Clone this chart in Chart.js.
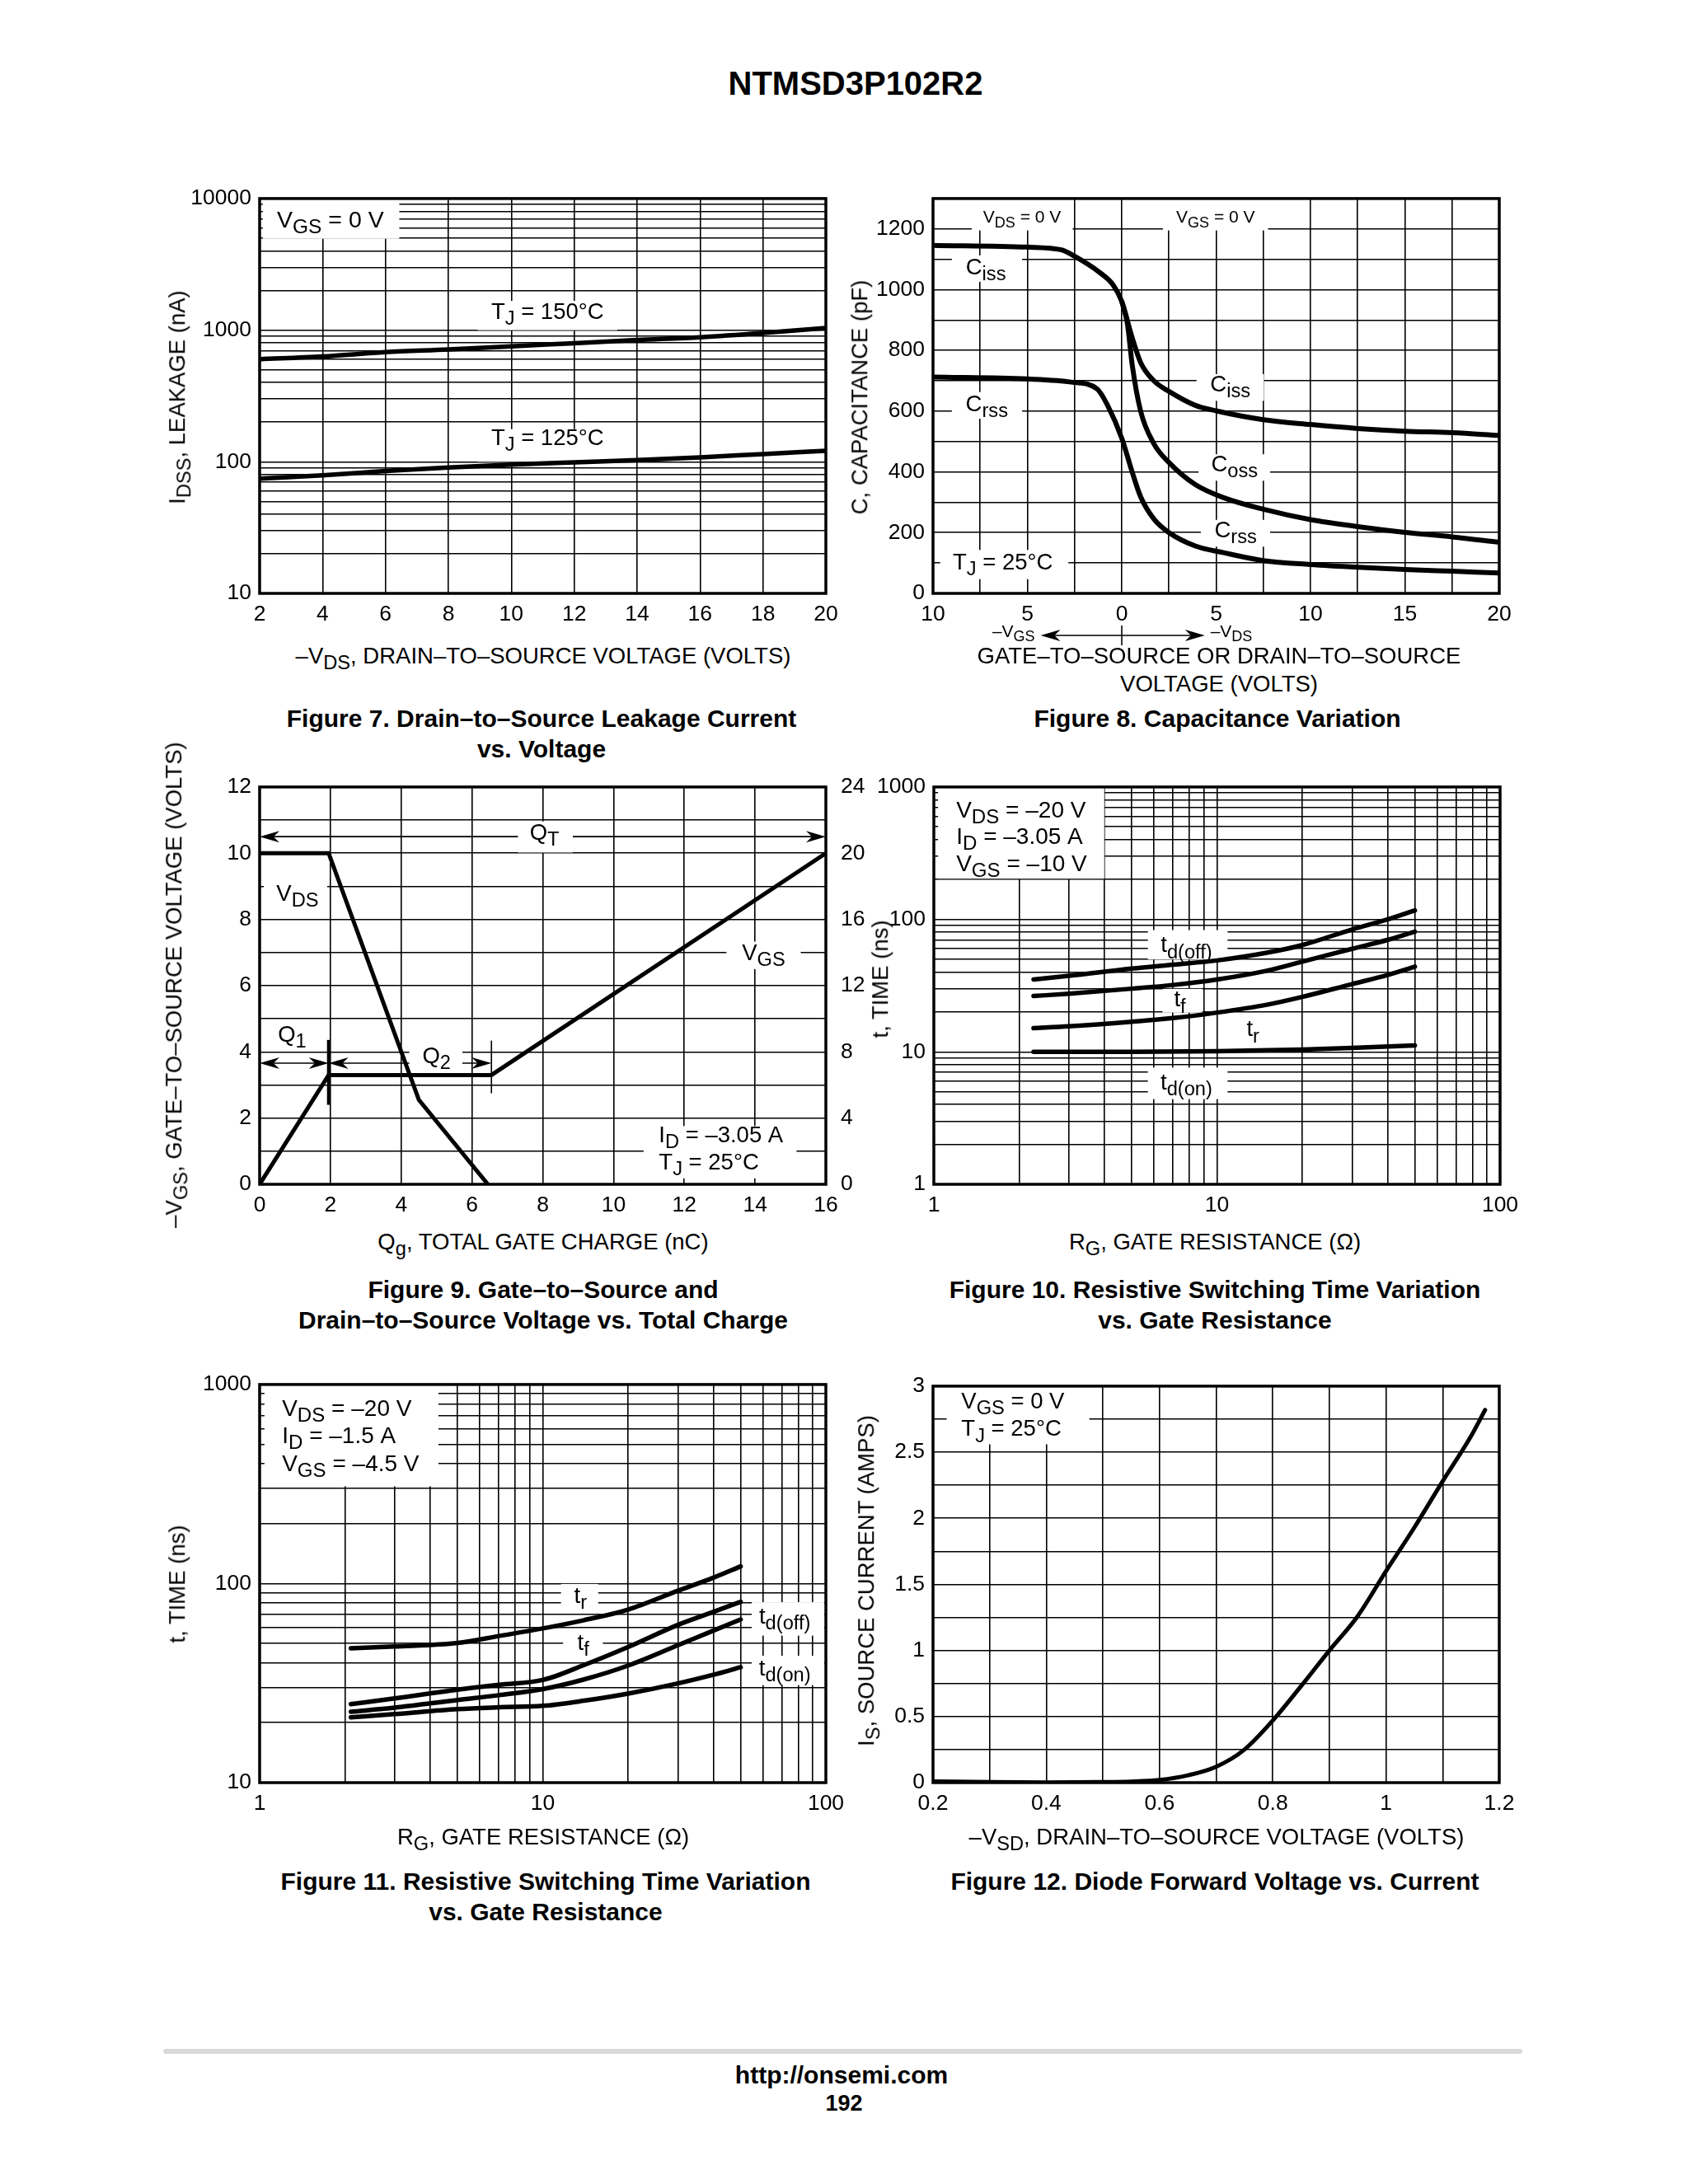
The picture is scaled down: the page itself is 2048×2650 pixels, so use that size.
<!DOCTYPE html>
<html>
<head>
<meta charset="utf-8">
<title>NTMSD3P102R2</title>
<script src="https://cdn.jsdelivr.net/npm/chart.js@4.4.1/dist/chart.umd.min.js"></script>
<style>
  html, body { margin: 0; padding: 0; background: #fff; }
  #page { position: relative; width: 2048px; height: 2650px; overflow: hidden;
          font-family: "Liberation Sans", Arial, sans-serif; color: #000; }
  canvas { position: absolute; }
  .c { position: absolute; transform: translate(-50%, -50%); white-space: nowrap; line-height: 1; }
  .r { transform: translate(-50%, -50%) rotate(-90deg); }
  .ax { font-size: 27.5px; }
  .cap { font-size: 30px; font-weight: bold; }
  sub { font-size: 0.86em; vertical-align: -0.3em; line-height: 0; }
  #rule { position: absolute; left: 198px; top: 2486px; width: 1649px; height: 6px;
          background: #d9d9d9; border-radius: 3px; }
</style>
</head>
<body>
<div id="page">
  <div class="c" style="left:1038px;top:101px;font-size:40px;font-weight:bold">NTMSD3P102R2</div>

  <!-- figure 7 -->
  <canvas id="fig7"></canvas>
  <div class="c ax" style="left:659px;top:796px">–V<sub>DS</sub>, DRAIN–TO–SOURCE VOLTAGE (VOLTS)</div>
  <div class="c ax r" style="left:215px;top:482px">I<sub>DSS</sub>, LEAKAGE (nA)</div>
  <div class="c cap" style="left:657px;top:872px">Figure 7. Drain–to–Source Leakage Current</div>
  <div class="c cap" style="left:657px;top:909px">vs. Voltage</div>

  <!-- figure 8 -->
  <canvas id="fig8"></canvas>
  <div class="c ax r" style="left:1043px;top:482px">C, CAPACITANCE (pF)</div>
  <div class="c ax" style="left:1479px;top:796px">GATE–TO–SOURCE OR DRAIN–TO–SOURCE</div>
  <div class="c ax" style="left:1479px;top:830px">VOLTAGE (VOLTS)</div>
  <div class="c cap" style="left:1477px;top:872px">Figure 8. Capacitance Variation</div>

  <!-- figure 9 -->
  <canvas id="fig9"></canvas>
  <div class="c ax r" style="left:211px;top:1195px">–V<sub>GS</sub>, GATE–TO–SOURCE VOLTAGE (VOLTS)</div>
  <div class="c ax" style="left:659px;top:1507px">Q<sub>g</sub>, TOTAL GATE CHARGE (nC)</div>
  <div class="c cap" style="left:659px;top:1565px">Figure 9. Gate–to–Source and</div>
  <div class="c cap" style="left:659px;top:1602px">Drain–to–Source Voltage vs. Total Charge</div>

  <!-- figure 10 -->
  <canvas id="fig10"></canvas>
  <div class="c ax r" style="left:1068px;top:1188px">t, TIME (ns)</div>
  <div class="c ax" style="left:1474px;top:1507px">R<sub>G</sub>, GATE RESISTANCE (Ω)</div>
  <div class="c cap" style="left:1474px;top:1565px">Figure 10. Resistive Switching Time Variation</div>
  <div class="c cap" style="left:1474px;top:1602px">vs. Gate Resistance</div>

  <!-- figure 11 -->
  <canvas id="fig11"></canvas>
  <div class="c ax r" style="left:215px;top:1922px">t, TIME (ns)</div>
  <div class="c ax" style="left:659px;top:2229px">R<sub>G</sub>, GATE RESISTANCE (Ω)</div>
  <div class="c cap" style="left:662px;top:2283px">Figure 11. Resistive Switching Time Variation</div>
  <div class="c cap" style="left:662px;top:2320px">vs. Gate Resistance</div>

  <!-- figure 12 -->
  <canvas id="fig12"></canvas>
  <div class="c ax r" style="left:1051px;top:1918px">I<sub>S</sub>, SOURCE CURRENT (AMPS)</div>
  <div class="c ax" style="left:1476px;top:2229px">–V<sub>SD</sub>, DRAIN–TO–SOURCE VOLTAGE (VOLTS)</div>
  <div class="c cap" style="left:1474px;top:2283px">Figure 12. Diode Forward Voltage vs. Current</div>

  <div id="rule"></div>
  <div class="c" style="left:1021px;top:2518px;font-size:30px;font-weight:bold">http://onsemi.com</div>
  <div class="c" style="left:1024px;top:2552px;font-size:27px;font-weight:bold">192</div>
</div>

<script>
// Figure 7: leakage vs VDS
const fig7Vds = [2, 4, 6, 8, 10, 12, 14, 16, 18, 20];
const fig7Idss150 = [601, 631, 680, 713, 754, 796, 841, 884, 952, 1040];
const fig7Idss125 = [74.5, 79, 85, 90.6, 95, 99, 103, 108, 114.5, 121];
const fig7XTicks = [2, 4, 6, 8, 10, 12, 14, 16, 18, 20];
const fig7YTicks = [10, 100, 1000, 10000];

// Figure 8: capacitance (x < 0 is the -VGS side, x > 0 the -VDS side)
const fig8CissV = [-10, -5, -3.2, -2.5, -1.2, -0.45, 0, 0.55, 1.0, 1.7, 2.5, 3.9, 5, 7.5, 10, 12.5, 15, 17.5, 20];
const fig8Ciss = [1146, 1140, 1131, 1110, 1058, 1015, 961, 842, 760, 700, 665, 619, 601, 572, 556, 543, 534, 529, 520];
const fig8CossV = [0, 0.3, 0.55, 1.0, 1.7, 2.5, 3.9, 5.4, 7.5, 10, 12.5, 15, 17.5, 20];
const fig8Coss = [961, 888, 754, 600, 493, 431, 358, 315, 277, 243, 220, 201, 186, 168];
const fig8CrssV = [-10, -5, -2.6, -1.3, -0.75, 0, 0.55, 1.0, 1.7, 2.5, 3.9, 5.4, 7.5, 10, 12.5, 15, 17.5, 20];
const fig8Crss = [712, 706, 695, 673, 619, 511, 400, 318, 245, 200, 156, 134, 108, 95, 86, 79, 73, 67];
const fig8XTicks = [-10, -5, 0, 5, 10, 15, 20];
const fig8YTicks = [0, 200, 400, 600, 800, 1000, 1200];
const fig8XGrid = [-10, -7.5, -5, -2.5, 0, 2.5, 5, 7.5, 10, 12.5, 15, 17.5, 20];
const fig8YGrid = [0, 100, 200, 300, 400, 500, 600, 700, 800, 900, 1000, 1100, 1200, 1300];

// Figure 9: gate charge
const fig9VgsQ = [0, 1.95, 6.55, 16];
const fig9Vgs = [0, 3.3, 3.3, 10];
const fig9VdsQ = [0, 1.95, 4.5, 6.45];
const fig9Vds = [20, 20, 5.1, 0];
const fig9XTicks = [0, 2, 4, 6, 8, 10, 12, 14, 16];
const fig9YTicks = [0, 2, 4, 6, 8, 10, 12];
const fig9YGrid = [0, 1, 2, 3, 4, 5, 6, 7, 8, 9, 10, 11, 12];
const fig9Y2Ticks = [0, 4, 8, 12, 16, 20, 24];

// Figure 10: switching times, VGS = -10 V
const fig10Rg = [2.25, 3, 5, 7, 10, 15, 20, 30, 40, 50];
const fig10TdOff = [35.2, 37.5, 42.5, 45.5, 49, 56, 64, 84, 100, 117];
const fig10Tf = [26.4, 27.5, 30, 32, 35.2, 41, 48, 60, 70, 81];
const fig10Tr = [15.1, 15.6, 16.9, 18, 19.8, 22.7, 26, 32.5, 38, 44];
const fig10TdOnRg = [2.25, 5, 10, 20, 30, 50];
const fig10TdOn = [10, 10, 10.1, 10.4, 10.7, 11.2];
const fig10XTicks = [1, 10, 100];
const fig10YTicks = [1, 10, 100, 1000];

// Figure 11: switching times, VGS = -4.5 V
const fig11Rg = [2.1, 3, 5, 7, 10, 14, 20, 30, 40, 50];
const fig11Tr = [47.3, 48.3, 50.3, 54.5, 59.5, 65.5, 74, 92, 107, 122];
const fig11TdOff = [24.8, 26.5, 29.3, 31, 32.8, 39, 48, 62, 72, 81];
const fig11Tf = [22.7, 23.8, 26, 27.5, 29.5, 33, 38.7, 49, 58, 66];
const fig11TdOn = [21.3, 22.1, 23.4, 23.9, 24.3, 25.8, 28, 31.5, 34.8, 38];
const fig11XTicks = [1, 10, 100];
const fig11YTicks = [10, 100, 1000];

// Figure 12: diode forward voltage
const fig12Vsd = [0.2, 0.3, 0.4, 0.5, 0.55, 0.6, 0.65, 0.7, 0.75, 0.8, 0.85, 0.9, 0.95, 1.0, 1.05, 1.1, 1.15, 1.175];
const fig12Is = [0.01, 0.004, 0.002, 0.004, 0.008, 0.02, 0.055, 0.12, 0.25, 0.47, 0.73, 1.0, 1.26, 1.6, 1.93, 2.28, 2.62, 2.82];
const fig12XTicks = [0.2, 0.4, 0.6, 0.8, 1, 1.2];
const fig12YTicks = [0, 0.5, 1, 1.5, 2, 2.5, 3];
const fig12XGrid = [0.2, 0.3, 0.4, 0.5, 0.6, 0.7, 0.8, 0.9, 1.0, 1.1, 1.2];
const fig12YGrid = [0, 0.25, 0.5, 0.75, 1, 1.25, 1.5, 1.75, 2, 2.25, 2.5, 2.75, 3];

// ---- drawing ----
const FONT = '"Liberation Sans", Arial, sans-serif';
const Y_W = 110, X_H = 52, TOP = 24, RIGHT = 36;
const LABEL = 27.5;
const SUB = 0.86;

function logGrid(min, max) {
  const out = [];
  for (let d = min; d < max; d *= 10) {
    for (let m = 1; m < 10; m++) out.push(d * m);
  }
  out.push(max);
  return out;
}

function axis(type, min, max, grid, labels, extra, fmt) {
  fmt = fmt || (v => String(v));
  return Object.assign({
    type, min, max,
    grid: { color: '#000', lineWidth: 1.6, drawTicks: false },
    border: { display: false },
    ticks: {
      color: '#000', font: { family: FONT, size: 26.5 }, padding: 10,
      autoSkip: false, maxRotation: 0,
      callback: v => {
        const hit = labels.find(l => Math.abs(l - v) < 1e-9 * Math.max(1, Math.abs(l)));
        return hit === undefined ? '' : fmt(hit);
      }
    },
    afterBuildTicks: s => { s.ticks = grid.map(v => ({ value: v })); }
  }, extra);
}
const xPos = { position: 'bottom', afterFit: s => { s.height = X_H; } };
const yPos = { position: 'left', afterFit: s => { s.width = Y_W; } };

function line(xs, ys, extra) {
  return Object.assign({
    data: xs.map((x, i) => ({ x, y: ys[i] })),
    borderColor: '#000', borderWidth: 5.5, pointRadius: 0, fill: false,
    cubicInterpolationMode: 'monotone', borderCapStyle: 'round', borderJoinStyle: 'round'
  }, extra);
}

// text with _{subscript} parts
function rich(ctx, s, x, y, size, align) {
  const parts = s.split(/(_\{[^}]*\})/).filter(Boolean).map(p =>
    p.startsWith('_{') ? { t: p.slice(2, -1), sub: true } : { t: p, sub: false });
  let w = 0;
  parts.forEach(p => {
    ctx.font = (p.sub ? size * SUB : size) + 'px ' + FONT;
    p.w = ctx.measureText(p.t).width;
    w += p.w;
  });
  let cx = align === 'left' ? x : align === 'right' ? x - w : x - w / 2;
  ctx.fillStyle = '#000';
  ctx.textAlign = 'left';
  ctx.textBaseline = 'middle';
  parts.forEach(p => {
    ctx.font = (p.sub ? size * SUB : size) + 'px ' + FONT;
    ctx.fillText(p.t, cx, p.sub ? y + size * 0.3 : y);
    cx += p.w;
  });
}

function head(ctx, x, y, dir) {
  const L = 24, H = 7;
  ctx.beginPath();
  ctx.moveTo(x, y);
  ctx.lineTo(x + dir * L, y - H);
  ctx.lineTo(x + dir * L * 0.7, y);
  ctx.lineTo(x + dir * L, y + H);
  ctx.closePath();
  ctx.fill();
}

function arrow(ctx, x1, x2, y) {
  ctx.lineWidth = 1.6;
  ctx.beginPath();
  ctx.moveTo(x1 + 10, y);
  ctx.lineTo(x2 - 10, y);
  ctx.stroke();
  head(ctx, x1, y, 1);
  head(ctx, x2, y, -1);
}

// labels with white backgrounds, arrows and the heavy frame
function sheet(n) {
  return {
    id: 'sheet',
    beforeDatasetsDraw(chart) {
      const ctx = chart.ctx, xs = chart.scales.x, ys = chart.scales.y;
      const px = v => xs.getPixelForValue(v), py = v => ys.getPixelForValue(v);
      ctx.save();
      ctx.strokeStyle = '#000';
      ctx.fillStyle = '#000';
      (n.arrows || []).forEach(a => arrow(ctx, px(a.x1), px(a.x2), py(a.y)));
      (n.marks || []).forEach(k => {
        ctx.lineWidth = k.lw;
        ctx.beginPath();
        ctx.moveTo(px(k.x), py(k.y1));
        ctx.lineTo(px(k.x), py(k.y2));
        ctx.stroke();
      });
      ctx.fillStyle = '#fff';
      (n.boxes || []).forEach(b => {
        const x1 = px(b[0]), x2 = px(b[1]), y1 = py(b[2]), y2 = py(b[3]);
        ctx.fillRect(Math.min(x1, x2), Math.min(y1, y2), Math.abs(x2 - x1), Math.abs(y2 - y1));
      });
      (n.texts || []).forEach(t => rich(ctx, t.s, px(t.x), py(t.y), t.size || LABEL, t.align || 'center'));
      ctx.restore();
    },
    afterDatasetsDraw(chart) {
      const a = chart.chartArea, ctx = chart.ctx;
      ctx.save();
      ctx.strokeStyle = '#000';
      ctx.lineWidth = 3.5;
      ctx.strokeRect(a.left, a.top, a.right - a.left, a.bottom - a.top);
      ctx.restore();
    },
    afterDraw(chart) {
      if (n.below) n.below(chart);
    }
  };
}

function makeChart(id, area, m, datasets, scales, notes) {
  const cv = document.getElementById(id);
  const w = area.r - area.l + m.l + m.r, h = area.b - area.t + m.t + m.b;
  cv.width = w;
  cv.height = h;
  Object.assign(cv.style, {
    left: (area.l - m.l) + 'px', top: (area.t - m.t) + 'px',
    width: w + 'px', height: h + 'px'
  });
  return new Chart(cv, {
    type: 'line',
    data: { datasets },
    options: {
      responsive: false, animation: false, events: [],
      layout: { padding: { top: m.t, right: m.pr, left: 0, bottom: m.pb || 0 } },
      plugins: { legend: { display: false }, tooltip: { enabled: false } },
      scales
    },
    plugins: [sheet(notes)]
  });
}

const M = { l: Y_W, r: RIGHT, t: TOP, b: X_H, pr: RIGHT };

// Figure 7
makeChart('fig7', { l: 315, t: 239, r: 1002, b: 720 }, M,
  [line(fig7Vds, fig7Idss150), line(fig7Vds, fig7Idss125)],
  {
    x: axis('linear', 2, 20, fig7XTicks, fig7XTicks, xPos),
    y: axis('logarithmic', 10, 10000, logGrid(10, 10000), fig7YTicks, yPos)
  },
  {
    boxes: [[2.1, 6.44, 10000, 4950], [8.93, 13.37, 1000, 1667], [8.93, 13.37, 100, 177]],
    texts: [
      { x: 2.55, y: 6760, s: 'V_{GS} = 0 V', align: 'left', size: 28.5 },
      { x: 11.15, y: 1365, s: 'T_{J} = 150°C' },
      { x: 11.15, y: 150, s: 'T_{J} = 125°C' }
    ]
  });

// Figure 8 (extra room below the axis for the -VGS / -VDS arrow)
makeChart('fig8', { l: 1132, t: 239, r: 1819, b: 720 }, { l: Y_W, r: RIGHT, t: TOP, b: X_H + 34, pr: RIGHT, pb: 34 },
  [line(fig8CissV, fig8Ciss, { borderWidth: 6 }), line(fig8CossV, fig8Coss, { borderWidth: 6 }),
   line(fig8CrssV, fig8Crss, { borderWidth: 6 })],
  {
    x: axis('linear', -10, 20, fig8XGrid, fig8XTicks, xPos, v => String(Math.abs(v))),
    y: axis('linear', 0, 1300, fig8YGrid, fig8YTicks, yPos)
  },
  {
    boxes: [
      [-7.95, -2.6, 1300, 1195], [2.18, 7.75, 1300, 1195],
      [-9.0, -5.28, 1113, 1026], [-9.0, -5.28, 663, 575],
      [3.96, 7.53, 722, 634], [4.07, 7.86, 458, 371], [4.19, 7.86, 242, 154],
      [-9.62, -2.83, 143, 47]
    ],
    texts: [
      { x: -5.28, y: 1236, s: 'V_{DS} = 0 V', size: 21 },
      { x: 4.97, y: 1236, s: 'V_{GS} = 0 V', size: 21 },
      { x: -7.2, y: 1072, s: 'C_{iss}' },
      { x: -7.15, y: 621, s: 'C_{rss}' },
      { x: 5.75, y: 686, s: 'C_{iss}' },
      { x: 5.97, y: 423, s: 'C_{oss}' },
      { x: 6.03, y: 206, s: 'C_{rss}' },
      { x: -8.95, y: 100, s: 'T_{J} = 25°C', align: 'left' }
    ],
    below(chart) {
      const ctx = chart.ctx, xs = chart.scales.x, y = chart.chartArea.bottom + 51;
      const px = v => xs.getPixelForValue(v);
      ctx.save();
      ctx.strokeStyle = '#000';
      ctx.fillStyle = '#000';
      arrow(ctx, px(-4.3), px(4.4), y);
      ctx.lineWidth = 1.6;
      ctx.beginPath();
      ctx.moveTo(px(0), y - 12);
      ctx.lineTo(px(0), y + 12);
      ctx.stroke();
      rich(ctx, '–V_{GS}', px(-4.6), y - 4, 21, 'right');
      rich(ctx, '–V_{DS}', px(4.7), y - 4, 21, 'left');
      ctx.restore();
    }
  });

// Figure 9 (right axis for VDS)
makeChart('fig9', { l: 315, t: 953, r: 1002, b: 1437 }, { l: Y_W, r: 70, t: TOP, b: X_H, pr: 0 },
  [line(fig9VgsQ, fig9Vgs, { borderWidth: 5, cubicInterpolationMode: 'default', tension: 0, borderJoinStyle: 'miter' }),
   line(fig9VdsQ, fig9Vds, { borderWidth: 5, cubicInterpolationMode: 'default', tension: 0, borderJoinStyle: 'miter', yAxisID: 'y2' })],
  {
    x: axis('linear', 0, 16, fig9XTicks, fig9XTicks, xPos),
    y: axis('linear', 0, 12, fig9YGrid, fig9YTicks, yPos),
    y2: axis('linear', 0, 24, fig9Y2Ticks, fig9Y2Ticks, {
      position: 'right', grid: { display: false }, afterFit: s => { s.width = 70; }
    })
  },
  {
    arrows: [{ x1: 0, x2: 16, y: 10.5 }, { x1: 0, x2: 1.95, y: 3.66 }, { x1: 1.95, x2: 6.55, y: 3.66 }],
    marks: [{ x: 1.95, y1: 2.4, y2: 4.36, lw: 4 }, { x: 6.55, y1: 2.75, y2: 4.34, lw: 1.6 }],
    boxes: [[7.3, 8.85, 10.02, 10.96], [4.23, 5.73, 3.34, 4.22], [0.12, 1.91, 8.32, 9.08],
            [13.19, 15.29, 6.5, 7.33], [10.85, 15.17, 0.18, 1.76]],
    texts: [
      { x: 8.05, y: 10.6, s: 'Q_{T}' },
      { x: 0.92, y: 4.5, s: 'Q_{1}' },
      { x: 5.0, y: 3.86, s: 'Q_{2}' },
      { x: 1.07, y: 8.76, s: 'V_{DS}' },
      { x: 14.24, y: 6.97, s: 'V_{GS}' },
      { x: 11.28, y: 1.46, s: 'I_{D} = –3.05 A', align: 'left' },
      { x: 11.28, y: 0.64, s: 'T_{J} = 25°C', align: 'left' }
    ]
  });

// Figure 10
makeChart('fig10', { l: 1133, t: 953, r: 1820, b: 1437 }, M,
  [line(fig10Rg, fig10TdOff), line(fig10Rg, fig10Tf), line(fig10Rg, fig10Tr), line(fig10TdOnRg, fig10TdOn)],
  {
    x: axis('logarithmic', 1, 100, logGrid(1, 100), fig10XTicks, xPos),
    y: axis('logarithmic', 1, 1000, logGrid(1, 1000), fig10YTicks, yPos)
  },
  {
    boxes: [[1.035, 4.0, 1000, 203], [5.7, 10.9, 83, 49.9], [6.42, 8.88, 29.9, 19.8], [5.7, 10.9, 7.6, 4.4]],
    texts: [
      { x: 1.2, y: 661, s: 'V_{DS} = –20 V', align: 'left', size: 28 },
      { x: 1.2, y: 417, s: 'I_{D} = –3.05 A', align: 'left', size: 28 },
      { x: 1.2, y: 259, s: 'V_{GS} = –10 V', align: 'left', size: 28 },
      { x: 7.8, y: 63, s: 't_{d(off)}' },
      { x: 7.4, y: 24.5, s: 't_{f}' },
      { x: 13.4, y: 14.6, s: 't_{r}' },
      { x: 7.8, y: 5.8, s: 't_{d(on)}' }
    ]
  });

// Figure 11
makeChart('fig11', { l: 315, t: 1678, r: 1002, b: 2163 }, M,
  [line(fig11Rg, fig11Tr), line(fig11Rg, fig11TdOff), line(fig11Rg, fig11Tf), line(fig11Rg, fig11TdOn)],
  {
    x: axis('logarithmic', 1, 100, logGrid(1, 100), fig11XTicks, xPos),
    y: axis('logarithmic', 10, 1000, logGrid(10, 1000), fig11YTicks, yPos)
  },
  {
    boxes: [[1.04, 4.28, 1000, 308], [11.6, 15.7, 99.6, 74], [11.8, 16.3, 58.5, 42.4],
            [54.7, 98.6, 80.6, 54.8], [54.7, 98.6, 43.4, 30.9]],
    texts: [
      { x: 1.2, y: 752, s: 'V_{DS} = –20 V', align: 'left', size: 28 },
      { x: 1.2, y: 546, s: 'I_{D} = –1.5 A', align: 'left', size: 28 },
      { x: 1.2, y: 397, s: 'V_{GS} = –4.5 V', align: 'left', size: 28 },
      { x: 13.6, y: 86, s: 't_{r}' },
      { x: 13.9, y: 50, s: 't_{f}' },
      { x: 71.6, y: 67.5, s: 't_{d(off)}' },
      { x: 71.6, y: 37.2, s: 't_{d(on)}' }
    ]
  });

// Figure 12
makeChart('fig12', { l: 1132, t: 1680, r: 1819, b: 2163 }, M,
  [line(fig12Vsd, fig12Is, { borderWidth: 5 })],
  {
    x: axis('linear', 0.2, 1.2, fig12XGrid, fig12XTicks, xPos),
    y: axis('linear', 0, 3, fig12YGrid, fig12YTicks, yPos)
  },
  {
    boxes: [[0.224, 0.476, 3.0, 2.56]],
    texts: [
      { x: 0.25, y: 2.88, s: 'V_{GS} = 0 V', align: 'left' },
      { x: 0.25, y: 2.67, s: 'T_{J} = 25°C', align: 'left' }
    ]
  });
</script>
</body>
</html>
